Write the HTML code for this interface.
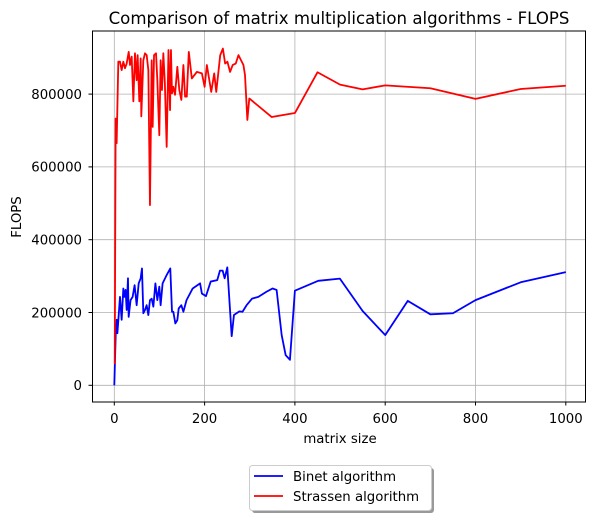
<!DOCTYPE html>
<html><head><meta charset="utf-8"><style>
body{margin:0;background:#fff}
svg text{font-family:"DejaVu Sans","Liberation Sans",sans-serif;fill:#000}
</style></head><body>
<svg id="chart" width="597" height="520" viewBox="0 0 597 520">
<rect x="0" y="0" width="597" height="520" fill="#fff"/>
<text x="339" y="24" font-size="16.6" text-anchor="middle">Comparison of matrix multiplication algorithms - FLOPS</text>
<g id="grid"></g><g id="series"></g>
<rect x="92.5" y="31" width="493" height="371" fill="none" stroke="#000" stroke-width="1"/>
<g id="ticks"></g>
<text x="340" y="443" font-size="13.3" text-anchor="middle">matrix size</text>
<text x="21" y="217" font-size="13.3" text-anchor="middle" transform="rotate(-90 21 217)">FLOPS</text>
<g>
<rect x="252" y="468" width="182" height="45" rx="3" fill="#999"/>
<rect x="249.5" y="465.5" width="182" height="45" rx="3" fill="#fff" stroke="#ccc"/>
<line x1="254" y1="476" x2="283" y2="476" stroke="#00f" stroke-width="1.8"/>
<text x="293" y="481" font-size="13.3">Binet algorithm</text>
<line x1="254" y1="496" x2="283" y2="496" stroke="#f00" stroke-width="1.8"/>
<text x="293" y="501" font-size="13.3">Strassen algorithm</text>
</g>
</svg>
<script>
const xTicks=[0,200,400,600,800,1000];
const yTicks=[0,200000,400000,600000,800000];
const binetX=[0,3.2,5.3,6.8,9,12.6,16.3,20,22.2,25,27.4,30.3,31.8,36,40.6,45,49.5,54,58.4,61.3,64.3,68,71.7,75.4,79,82.8,86.5,91,95.3,99.7,102.6,107,116,124,127.8,130.7,135.2,139.6,142.6,148.5,153,160,173.6,190,194,203,213.5,228,234,240,244.4,250.3,260,265,277,284,293,305,319,337,350.7,359.5,370.7,379.5,389,400,451.6,499.6,550,600,650,700,750,800,900,1000];
const binetY=[0,143000,180000,143000,180000,243000,180000,266000,243000,262000,207000,294000,188000,234000,243000,275000,220000,280000,294000,321000,198000,207000,220000,193000,234000,238000,216000,280000,234000,271000,220000,280000,303000,321000,202000,202000,170000,179000,211000,220000,202000,234000,266000,280000,252000,245000,285000,289000,315000,315000,294000,324000,135000,193000,203000,202000,220000,238000,243000,257000,266000,262000,138000,83000,70000,260000,287000,293000,204000,138000,232000,195000,198000,234000,283000,311000];
const strassenX=[1,3,5.2,8.9,12.6,16.3,20,23.7,27.4,31.9,34.8,38.5,42.2,45.8,49.5,51.7,55.4,58.4,59.8,64.3,68,71.7,75.4,79,82.8,85,88,92.4,95.3,99.7,102.6,105.6,108.6,112,116,120,123.5,125.5,127.8,130.7,134.5,139.6,144,148.5,153,156.8,160.5,165,171.7,182.8,194,200,205,214.7,221.3,225.8,234.6,240.5,245.5,250.5,256.4,262.3,269,275,286,289.5,294.7,299,348.7,400,450,500,550,600,700,800,900,1000];
const strassenY=[58000,733000,665000,889000,889000,866000,889000,871000,884000,916000,880000,903000,780000,912000,838000,907000,780000,898000,739000,893000,912000,907000,866000,495000,893000,710000,907000,912000,838000,687000,893000,811000,912000,829000,655000,921000,756000,921000,802000,820000,798000,875000,811000,784000,880000,793000,793000,916000,843000,861000,857000,820000,880000,806000,857000,806000,907000,925000,884000,889000,861000,880000,884000,907000,880000,852000,729000,788000,737000,748000,860000,826000,813000,824000,816000,787000,814000,823000];
const NS="http://www.w3.org/2000/svg";
const sx=v=>114.3+v*0.4515;
const sy=v=>385.3-v/200000*72.8;
const grid=document.getElementById('grid'),ticks=document.getElementById('ticks'),series=document.getElementById('series');
function mk(tag,attrs,parent){const e=document.createElementNS(NS,tag);for(const k in attrs)e.setAttribute(k,attrs[k]);parent.appendChild(e);return e;}
xTicks.forEach(t=>{
 const gl=mk('line',{x1:sx(t),x2:sx(t),y1:31,y2:402,stroke:'#b0b0b0','stroke-width':0.8},grid);
 
 
 mk('line',{x1:sx(t),x2:sx(t),y1:402,y2:405.5,stroke:'#000'},ticks);
 const tx=mk('text',{x:sx(t),y:423,'font-size':13.3,'text-anchor':'middle'},ticks);tx.textContent=t;
 
 
});
yTicks.forEach(t=>{
 const gl=mk('line',{x1:92.5,x2:585.5,y1:sy(t),y2:sy(t),stroke:'#b0b0b0','stroke-width':0.8},grid);
 
 
 mk('line',{x1:88.5,x2:92.5,y1:sy(t),y2:sy(t),stroke:'#000'},ticks);
 const tx=mk('text',{x:82,y:sy(t)+4.8,'font-size':13.3,'text-anchor':'end'},ticks);tx.textContent=t;
 
 
});
function line(xs,ys,color,name){
 const p=mk('polyline',{points:xs.map((x,i)=>sx(x)+','+sy(ys[i])).join(' '),fill:'none',stroke:color,'stroke-width':1.8,'stroke-linejoin':'round'},series);
 
 
}
line(binetX,binetY,'#00f','binet-line');
line(strassenX,strassenY,'#f00','strassen-line');
</script>
</body></html>
